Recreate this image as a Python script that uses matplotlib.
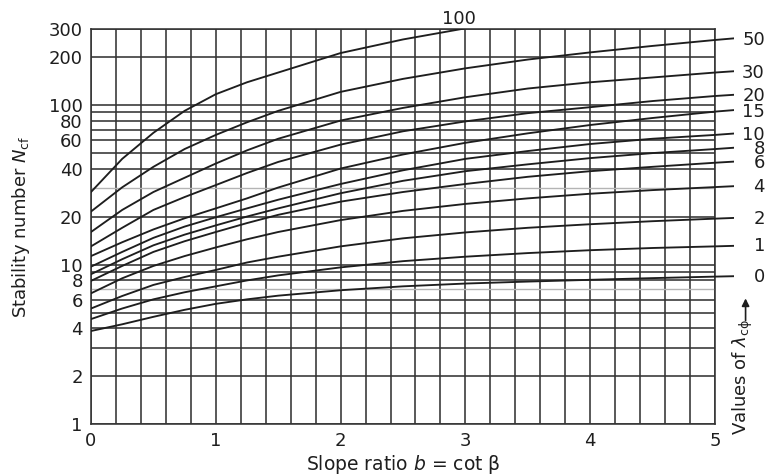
import matplotlib
matplotlib.use("Agg")
import matplotlib.pyplot as plt
import matplotlib.transforms as mtransforms
from matplotlib.patches import Rectangle

plt.rcParams['font.family'] = ['DejaVu Sans']
plt.rcParams['mathtext.fontset'] = 'dejavusans'

# slope ratio b = cot(beta); the last entry is the short leader past b = 5
slope_b = [0, 0.25, 0.5, 0.75, 1.0, 1.25, 1.5, 2.0, 2.5, 3.0, 3.5, 4.0, 4.5, 5.0, 5.15]

# stability number N_cf for each value of lambda_c_phi
ncf_100 = [28.5, 46, 67, 92, 117, 139, 160, 212, 258, 303]
ncf_50 = [21.5, 30.5, 41, 53, 65, 78, 92, 121, 146, 170, 193, 214, 235, 256, 262]
ncf_30 = [16, 22, 28.5, 35, 43, 52, 61.5, 80, 96, 112, 127, 139, 149, 160, 163]
ncf_20 = [13, 17, 22, 26.5, 31.5, 37.5, 44, 56.5, 68.5, 79, 89, 97, 106, 114, 116]
ncf_15 = [11.3, 13.8, 16.6, 19.5, 22.5, 26, 30.4, 40, 49, 58, 66.5, 75, 83, 91, 93]
ncf_10 = [9.7, 12, 14.7, 17.3, 19.8, 22.5, 25.5, 32, 39, 46, 51.5, 57, 61.5, 65, 66.3]
ncf_8 = [8.7, 10.8, 13.2, 15.4, 17.6, 20, 22.5, 28, 33.5, 38.5, 42.5, 46.5, 50, 53, 54]
ncf_6 = [7.9, 9.8, 12, 14, 16, 18.2, 20.5, 24.8, 28.5, 32, 35.5, 38.5, 41, 43.5, 44.2]
ncf_4 = [6.6, 8.2, 9.8, 11.3, 12.8, 14.4, 16, 19, 21.7, 24, 26, 27.8, 29.3, 30.6, 31]
ncf_2 = [5.3, 6.35, 7.45, 8.35, 9.25, 10.3, 11.2, 13, 14.6, 15.9, 17, 17.9, 18.7, 19.4, 19.6]
ncf_1 = [4.55, 5.3, 6.05, 6.7, 7.3, 7.95, 8.55, 9.6, 10.5, 11.2, 11.8, 12.3, 12.7, 13, 13.1]
ncf_0 = [3.83, 4.22, 4.7, 5.2, 5.67, 6.05, 6.38, 6.9, 7.3, 7.6, 7.82, 8.02, 8.22, 8.4, 8.45]

side_labels = ['50', '30', '20', '15', '10', '8', '6', '4', '2', '1', '0']
side_curves = [ncf_50, ncf_30, ncf_20, ncf_15, ncf_10, ncf_8, ncf_6, ncf_4, ncf_2, ncf_1, ncf_0]

y_ticks = [1, 2, 4, 6, 8, 10, 20, 40, 60, 80, 100, 200, 300]
x_ticks = [0, 1, 2, 3, 4, 5]
grid_dark = [1, 2, 3, 4, 5, 6, 8, 9, 10, 20, 40, 50, 60, 70, 80, 90, 100, 200, 300]
grid_light = [7, 30]
grid_x = [i / 5 for i in range(26)]

INK = '#1e1e1e'
GRID = '#333333'

fig = plt.figure(figsize=(7.66, 4.75), dpi=100)
ax = fig.add_axes([91 / 766, 51 / 475, 624 / 766, 395 / 475])
ax.set_yscale('log')
ax.set_xlim(0, 5)
ax.set_ylim(1, 300)

for v in grid_x:
    ax.axvline(v, color=GRID, lw=1.15, zorder=1)
for v in grid_dark:
    ax.axhline(v, color=GRID, lw=1.15, zorder=1)
for v in grid_light:
    ax.axhline(v, color='#b4b4b4', lw=1.0, zorder=1)

for s in ax.spines.values():
    s.set_color(GRID)
    s.set_linewidth(1.15)

# curves may run a little past the right frame, out to the labels
clip_box = Rectangle((0, 0), 1.03, 1.0, transform=ax.transAxes,
                     facecolor='none', edgecolor='none')

line, = ax.plot(slope_b[:len(ncf_100)], ncf_100, color=INK, lw=1.35, zorder=3)
line.set_clip_path(clip_box)
for vals in side_curves:
    line, = ax.plot(slope_b, vals, color=INK, lw=1.35, zorder=3)
    line.set_clip_path(clip_box)

trans = mtransforms.blended_transform_factory(ax.transAxes, ax.transData)
for lab, vals in zip(side_labels, side_curves):
    ax.text(1.08, vals[13], lab, transform=trans, ha='right', va='center',
            fontsize=13, color=INK)
ax.text(0.59, 1.025, '100', transform=ax.transAxes, ha='center', va='center',
        fontsize=13, color=INK)

ax.set_xticks(x_ticks)
ax.set_xticklabels([str(v) for v in x_ticks])
ax.set_yticks(y_ticks)
ax.set_yticklabels([str(v) for v in y_ticks])
ax.minorticks_off()
ax.tick_params(length=0, pad=6, labelsize=13, colors=INK)

ax.set_ylabel(r'Stability number $N_{\mathrm{cf}}$', fontsize=13, color=INK)
ax.yaxis.set_label_coords(-0.095, 0.5)
ax.set_xlabel(r'Slope ratio $b$ = cot β', fontsize=13.5, color=INK)
ax.xaxis.set_label_coords(0.5, -0.074)

ax.text(1.045, 0.118, r'Values of $\lambda_{\mathrm{c\phi}}$', transform=ax.transAxes,
        rotation=90, ha='center', va='center', fontsize=13, color=INK)
ax.annotate('', xy=(1.049, 0.325), xytext=(1.049, 0.255), xycoords='axes fraction',
            arrowprops=dict(arrowstyle='-|>', color=INK, lw=1.2, mutation_scale=11))

fig.savefig('out.png', dpi=100)
